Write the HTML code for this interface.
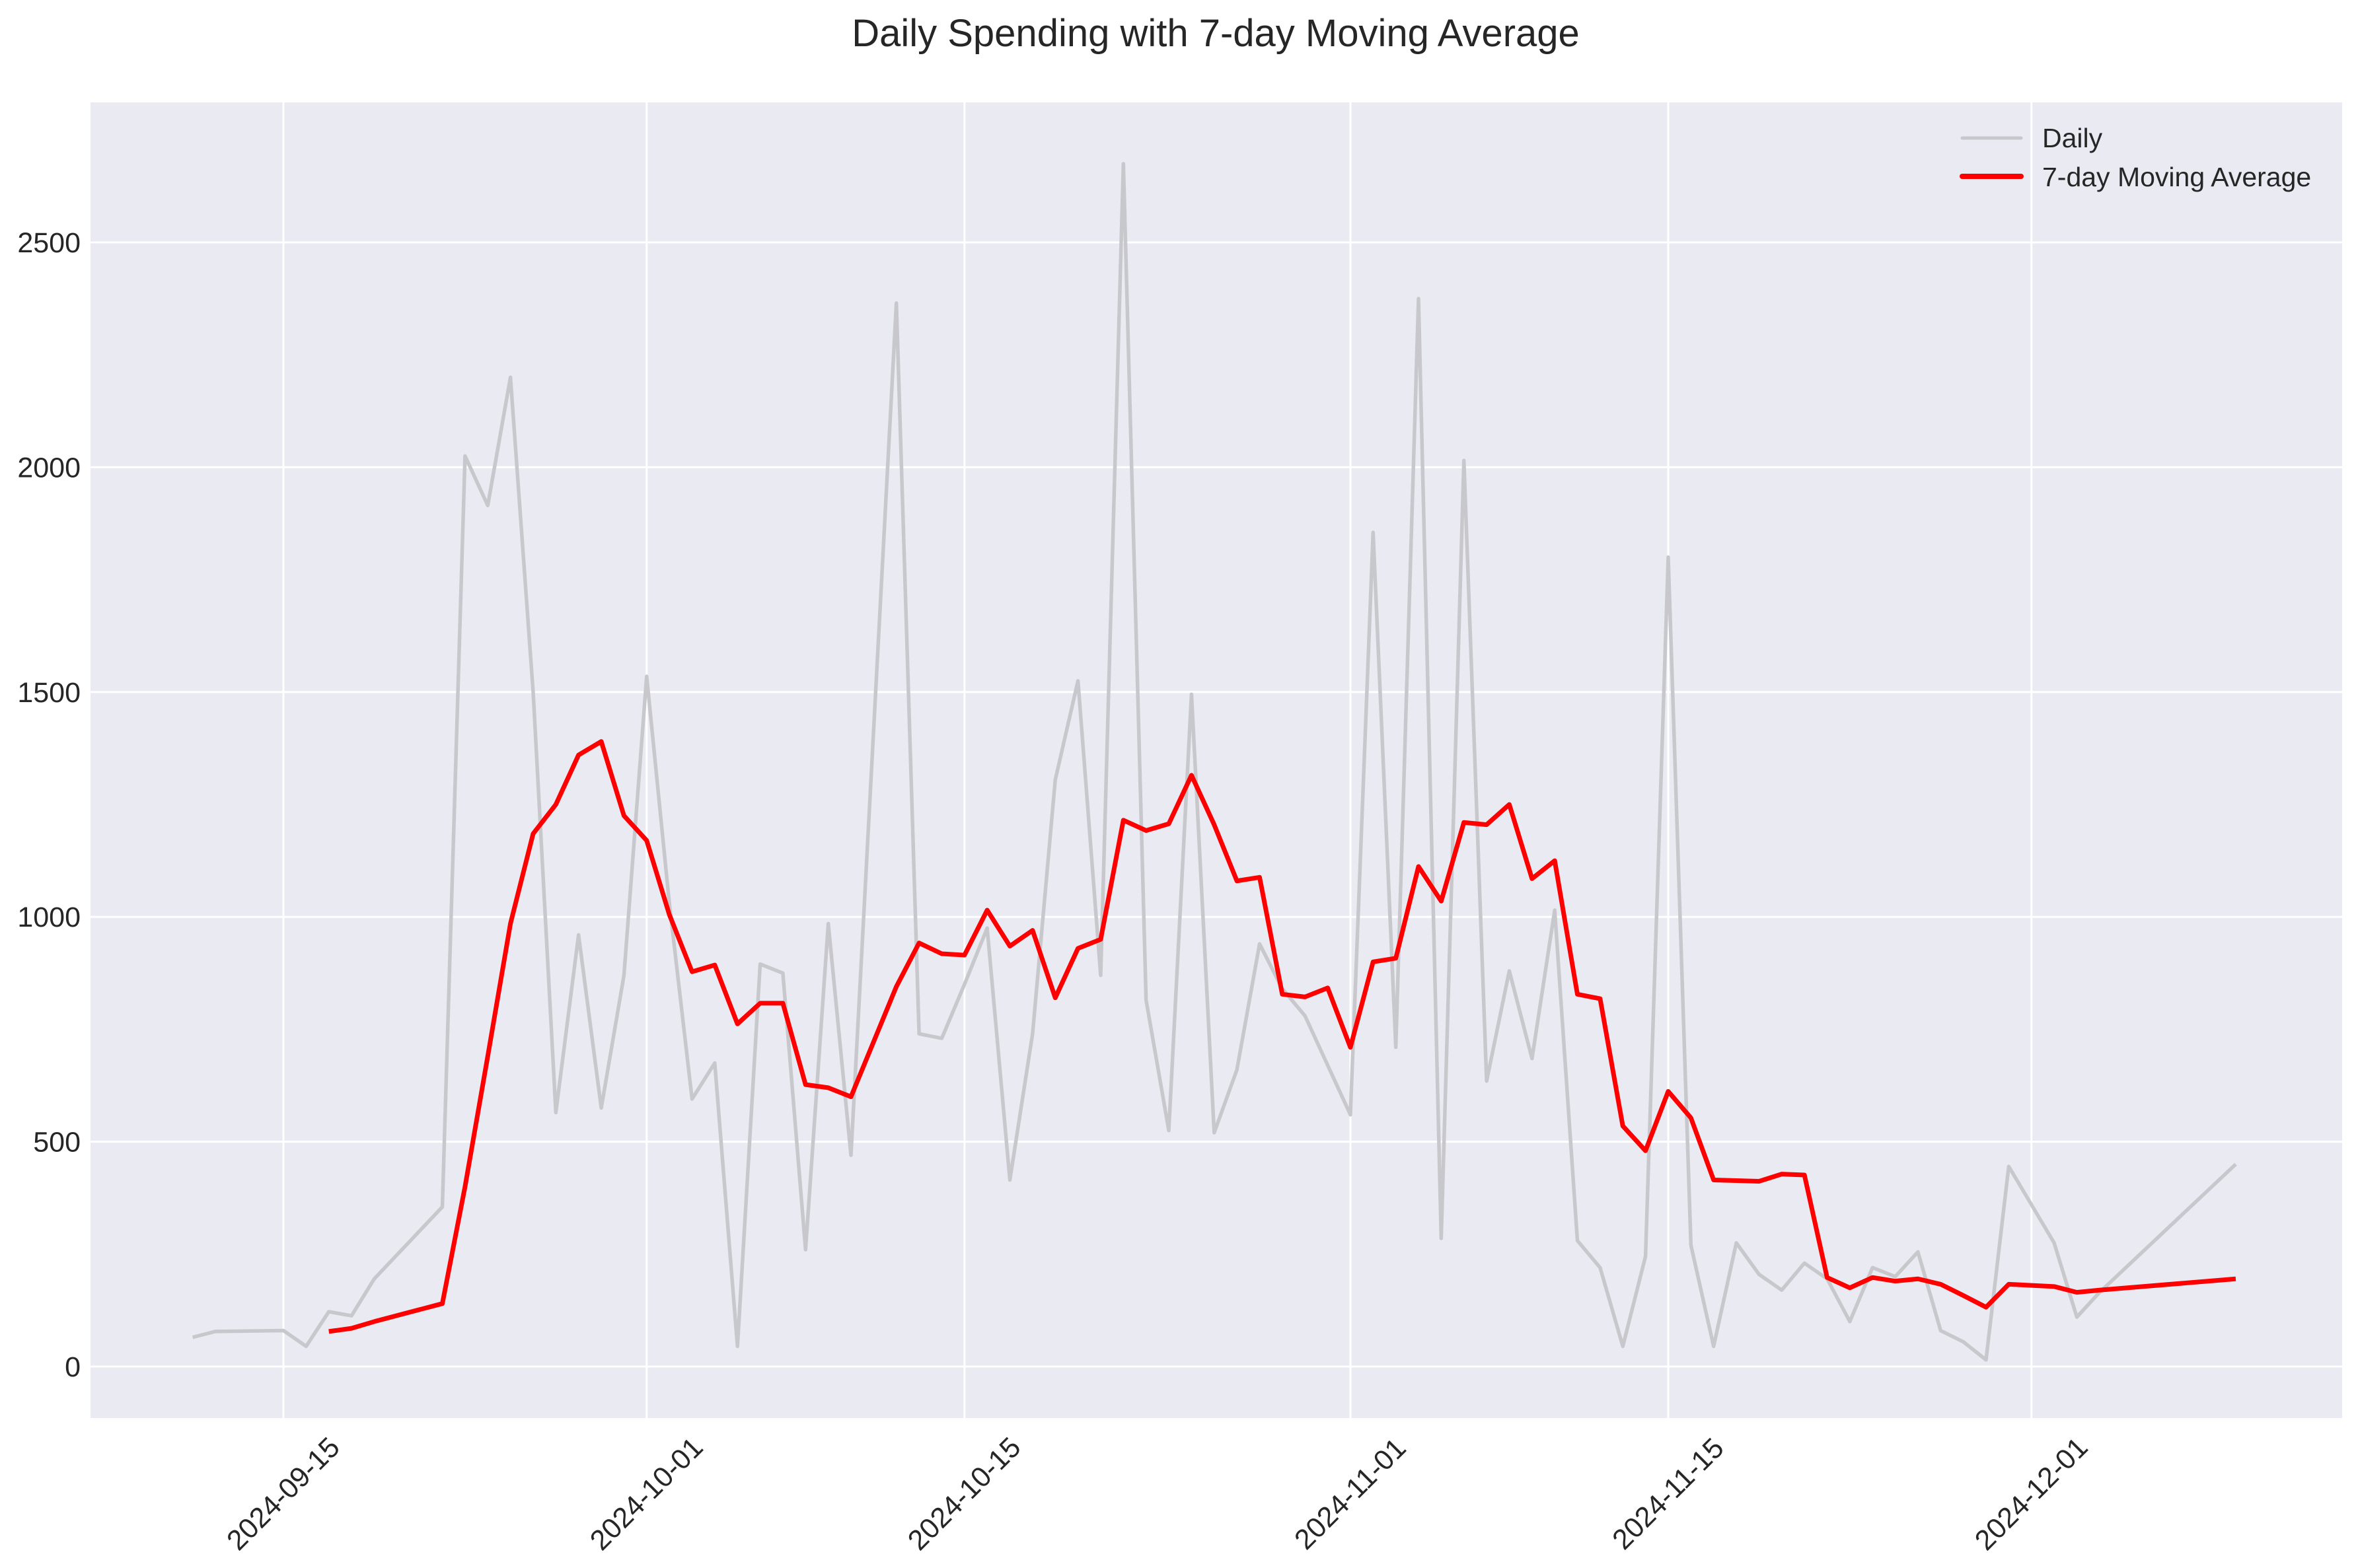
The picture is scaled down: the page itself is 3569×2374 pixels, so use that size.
<!DOCTYPE html>
<html><head><meta charset="utf-8"><style>
html,body{margin:0;padding:0;background:#fff;}
svg text{font-family:"Liberation Sans",Arial,sans-serif;fill:#262626;}
</style></head><body>
<svg id="chart" width="3569" height="2369" xmlns="http://www.w3.org/2000/svg">
<text x="1840" y="70" font-size="58" text-anchor="middle">Daily Spending with 7-day Moving Average</text>
<rect x="137" y="155" width="3408" height="1992" fill="#eaeaf2"/>
<g id="grid"></g>
<g id="series"></g>
<g>
<line x1="2970" y1="209" x2="3059" y2="209" stroke="#c8c8cc" stroke-width="5" stroke-linecap="round"/>
<text x="3091" y="223" font-size="41">Daily</text>
<line x1="2970" y1="267" x2="3059" y2="267" stroke="#ff0000" stroke-width="8" stroke-linecap="round"/>
<text x="3091" y="282" font-size="41">7-day Moving Average</text>
</g>
</svg>
<script>
const dailyDates=["09-11","09-12","09-15","09-16","09-17","09-18","09-19","09-22","09-23","09-24","09-25","09-26","09-27","09-28","09-29","09-30","10-01","10-02","10-03","10-04","10-05","10-06","10-07","10-08","10-09","10-10","10-12","10-13","10-14","10-15","10-16","10-17","10-18","10-19","10-20","10-21","10-22","10-23","10-24","10-25","10-26","10-27","10-28","10-29","10-30","10-31","11-01","11-02","11-03","11-04","11-05","11-06","11-07","11-08","11-09","11-10","11-11","11-12","11-13","11-14","11-15","11-16","11-17","11-18","11-19","11-20","11-21","11-22","11-23","11-24","11-25","11-26","11-27","11-28","11-29","11-30","12-02","12-03","12-04","12-10"];
const dailyValues=[65,78,80,45,122,113,195,355,2025,1915,2200,1500,565,960,575,870,1535,1030,595,675,45,895,875,260,985,470,2365,740,730,850,975,415,740,1305,1525,870,2675,815,525,1495,520,660,940,840,780,670,560,1855,710,2375,285,2015,635,880,685,1015,280,220,45,245,1800,270,45,275,205,170,230,195,100,220,200,255,80,55,15,445,275,110,165,450];
const maDates=["09-17","09-18","09-19","09-22","09-23","09-24","09-25","09-26","09-27","09-28","09-29","09-30","10-01","10-02","10-03","10-04","10-05","10-06","10-07","10-08","10-09","10-10","10-12","10-13","10-14","10-15","10-16","10-17","10-18","10-19","10-20","10-21","10-22","10-23","10-24","10-25","10-26","10-27","10-28","10-29","10-30","10-31","11-01","11-02","11-03","11-04","11-05","11-06","11-07","11-08","11-09","11-10","11-11","11-12","11-13","11-14","11-15","11-16","11-17","11-19","11-20","11-21","11-22","11-23","11-24","11-25","11-26","11-27","11-28","11-29","11-30","12-02","12-03","12-04","12-10"];
const maValues=[78,85,100,140,400,690,985,1185,1250,1360,1390,1225,1170,1005,878,893,762,808,808,627,620,600,845,942,918,915,1015,935,970,820,930,950,1215,1192,1207,1315,1205,1080,1088,828,822,842,710,900,908,1112,1035,1210,1205,1250,1085,1125,828,818,535,480,612,553,415,412,428,426,198,175,198,190,195,183,158,132,183,178,165,170,195];
const xTickDates=["09-15","10-01","10-15","11-01","11-15","12-01"];
const yTicks=[0,500,1000,1500,2000,2500];

const NS="http://www.w3.org/2000/svg";
function dayIndex(s){const [m,d]=s.split("-").map(Number);const base={9:0,10:30,11:61,12:91};return base[m]+d-15;}
function xs(s){return 429+dayIndex(s)*34.36;}
function ys(v){return 2069-v*(2069-367)/2500;}
const grid=document.getElementById("grid"),series=document.getElementById("series"),svg=document.getElementById("chart");
function mk(tag,attrs,parent){const e=document.createElementNS(NS,tag);for(const k in attrs)e.setAttribute(k,attrs[k]);parent.appendChild(e);return e;}
yTicks.forEach(v=>{
 const l=mk("line",{x1:137,x2:3545,y1:ys(v),y2:ys(v),stroke:"#fff","stroke-width":3},grid);
 
 
 const t=mk("text",{x:122,y:ys(v)+15,"font-size":43,"text-anchor":"end"},svg);
 t.textContent=v;
 
 
});
xTickDates.forEach(s=>{
 const x=xs(s);
 const l=mk("line",{x1:x,x2:x,y1:155,y2:2147,stroke:"#fff","stroke-width":3},grid);
 
 
 const t=mk("text",{x:x,y:2262,"font-size":43,"text-anchor":"middle","dominant-baseline":"central",transform:`rotate(-45 ${x} 2262)`},svg);
 t.textContent="2024-"+s;
 
 
});
const dp=mk("polyline",{points:dailyDates.map((d,i)=>xs(d)+","+ys(dailyValues[i])).join(" "),fill:"none",stroke:"#c8c8cc","stroke-width":5.5,"stroke-linejoin":"round"},series);


const mp=mk("polyline",{points:maDates.map((d,i)=>xs(d)+","+ys(maValues[i])).join(" "),fill:"none",stroke:"#ff0000","stroke-width":7,"stroke-linejoin":"round"},series);


</script>
</body></html>
